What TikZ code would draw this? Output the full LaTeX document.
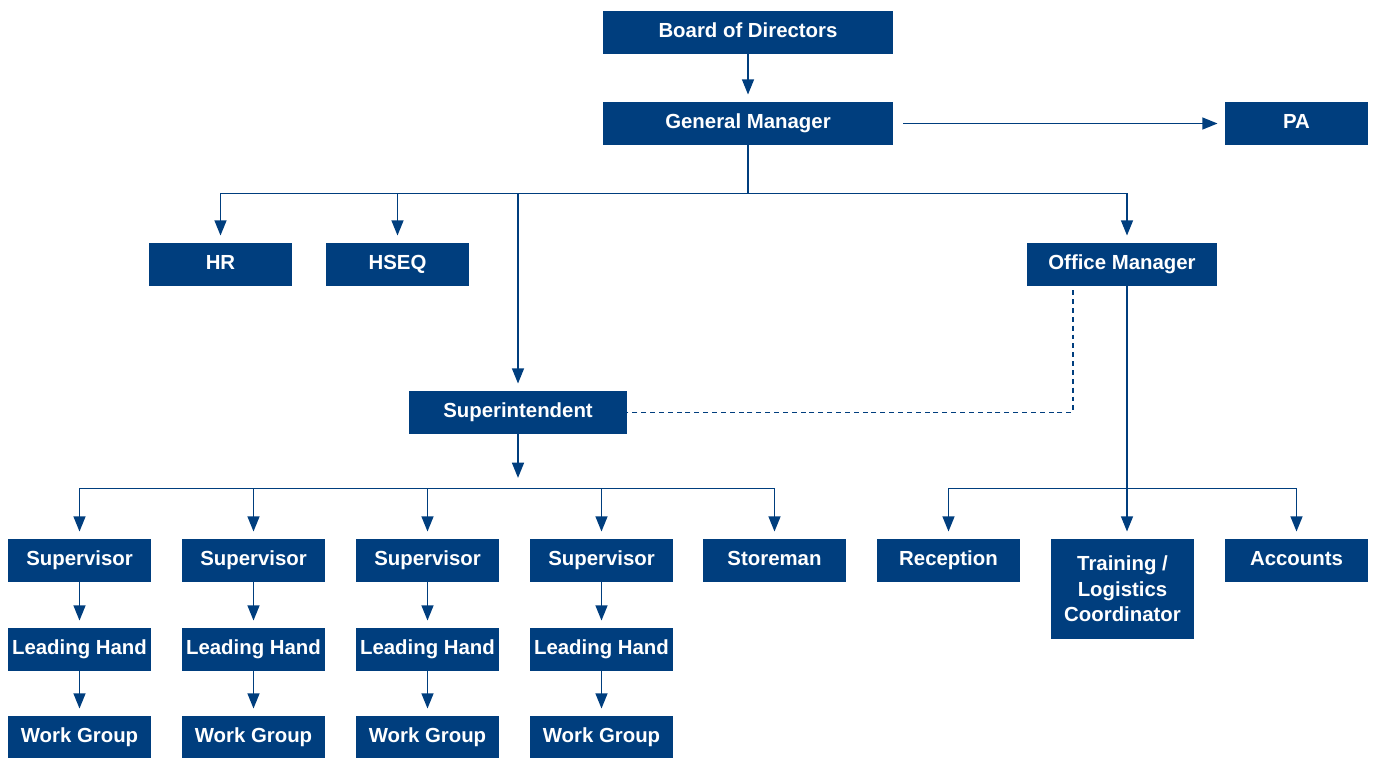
\documentclass[tikz,border=0pt]{standalone}
\usepackage{fontspec}
\setmainfont{Liberation Sans}
\usetikzlibrary{arrows.meta}
\definecolor{orgblue}{RGB}{0,62,126}
\tikzset{
    org-tall/.style = {fill=orgblue, text=white, font=\bfseries\fontsize{14.5}{18}\selectfont, rectangle, inner sep=0pt, minimum width=3.575cm, minimum height=1.075cm, align=center},
    org-box/.style = {org-tall, text height=11pt, text depth=3.5pt},
    org-line/.style = {draw=orgblue, line width=1pt},
    org-arrow/.style = {org-line, -{Triangle[length=3.8mm, width=3mm]}, shorten >=1.8mm},
    org-dash/.style = {org-line, dash pattern=on 3.5pt off 2.8pt},
}
\begin{document}
\begin{tikzpicture}
\useasboundingbox (0,0) rectangle (34.325,-18.95);
\node[org-box, minimum width=7.25cm] (board) at (18.7,-0.8125) {Board of Directors};
\node[org-box, minimum width=7.25cm] (gm) at (18.7,-3.0875) {General Manager};
\node[org-box] (pa) at (32.4125,-3.0875) {PA};
\node[org-box] (hr) at (5.5125,-6.6125) {HR};
\node[org-box] (hseq) at (9.9375,-6.6125) {HSEQ};
\node[org-box, minimum width=4.75cm] (office) at (28.05,-6.6125) {Office Manager};
\node[org-box, minimum width=5.45cm] (super) at (12.95,-10.3125) {Superintendent};
\node[org-box] (store) at (19.3625,-14.0125) {Storeman};
\node[org-box] (reception) at (23.7125,-14.0125) {Reception};
\node[org-tall, minimum height=2.5cm] (training) at (28.0625,-14.725) {Training /\\Logistics\\Coordinator};
\node[org-box] (accounts) at (32.4125,-14.0125) {Accounts};
\foreach \i/\x in {1/1.9875, 2/6.3375, 3/10.6875, 4/15.0375} {
    \node[org-box] (sv\i) at (\x,-14.0125) {Supervisor};
    \node[org-box] (lh\i) at (\x,-16.2375) {Leading Hand};
    \node[org-box, minimum height=1.05cm] (wg\i) at (\x,-18.425) {Work Group};
    \draw[org-arrow] (sv\i) -- (lh\i);
    \draw[org-arrow] (lh\i) -- (wg\i);
}

\draw[org-arrow] (board) -- (gm);
\draw[org-arrow] ([xshift=2.5mm]gm.east) -- (pa);

\coordinate (om-top) at ([xshift=1.25mm]office.north);
\coordinate (om-bot) at ([xshift=1.25mm]office.south);
\draw[org-line] (gm.south) -- ++(0,-1.2) coordinate (gm-bus);
\draw[org-line] (hr |- gm-bus) -- (om-top |- gm-bus);
\foreach \n in {hr, hseq, super}
    \draw[org-arrow] (\n |- gm-bus) -- (\n);
\draw[org-arrow] (om-top |- gm-bus) -- (om-top);

\draw[org-dash] ([xshift=-12.25mm, yshift=-1mm]office.south) |- (super.east);

\draw[org-arrow, shorten >=0pt] (super.south) -- ++(0,-1.09);
\path (super.south) ++(0,-1.35) coordinate (team-bus);
\draw[org-line] (sv1 |- team-bus) -- (store |- team-bus);
\foreach \n in {sv1, sv2, sv3, sv4, store}
    \draw[org-arrow] (\n |- team-bus) -- (\n);

\draw[org-arrow] (om-bot) -- (om-bot |- training.north);
\draw[org-line] (reception |- team-bus) -- (accounts |- team-bus);
\foreach \n in {reception, accounts}
    \draw[org-arrow] (\n |- team-bus) -- (\n);
\end{tikzpicture}
\end{document}
